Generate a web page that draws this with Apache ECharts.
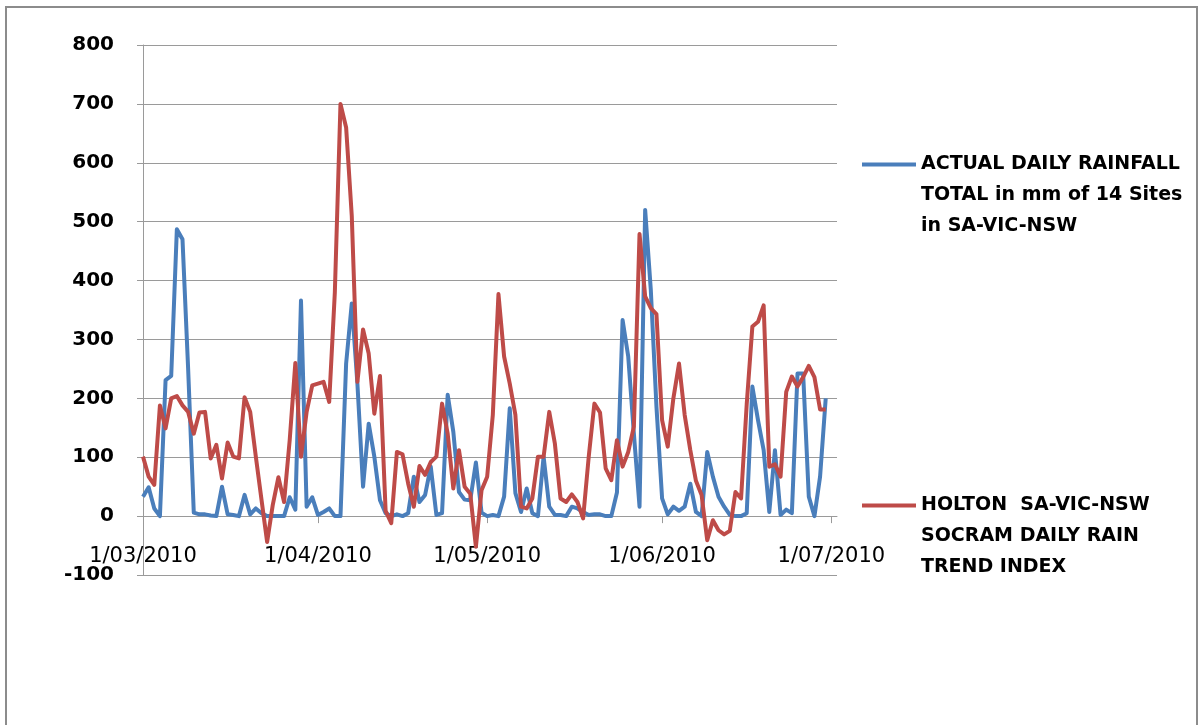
<!DOCTYPE html>
<html>
<head>
<meta charset="utf-8">
<script src="https://cdn.jsdelivr.net/npm/echarts@6/dist/echarts.min.js"></script>
<style>
html, body { margin: 0; padding: 0; background: #ffffff; }
#chart { width: 1203px; height: 725px; }
</style>
</head>
<body>
<div id="chart"></div>
<script>
// ---- data (daily, 1/03/2010 .. 30/06/2010) ----
const actualRainfall = [
  33, 49, 13, 0, 231, 238, 487, 470, 250, 6,
  3, 3, 1, 0, 50, 3, 2, 0, 36, 3,
  13, 5, 0, 0, 0, 0, 32, 11, 366, 16,
  32, 2, 7, 13, 0, 0, 259, 361, 225, 50,
  157, 101, 27, 5, 0, 3, 0, 5, 67, 24,
  36, 84, 2, 5, 206, 143, 41, 28, 27, 91,
  6, 0, 2, 0, 33, 183, 39, 7, 47, 5,
  0, 101, 16, 2, 2, 0, 16, 13, 7, 2,
  3, 3, 0, 0, 40, 333, 271, 140, 16, 520,
  384, 186, 30, 3, 16, 9, 16, 55, 7, 0,
  109, 67, 33, 16, 2, 0, 0, 5, 220, 163,
  112, 7, 112, 2, 11, 5, 242, 242, 33, 0,
  67, 200
];
const socramIndex = [
  101, 67, 53, 188, 149, 200, 204, 188, 177, 140,
  176, 177, 98, 121, 64, 125, 101, 98, 202, 177,
  101, 28, -44, 19, 66, 24, 129, 260, 101, 177,
  222, 225, 228, 194, 380, 700, 660, 510, 228, 317,
  276, 174, 238, 9, -12, 109, 105, 55, 16, 85,
  70, 92, 101, 191, 140, 47, 112, 50, 38, -52,
  44, 67, 172, 377, 271, 225, 172, 16, 13, 30,
  101, 101, 177, 123, 30, 24, 37, 24, -4, 101,
  191, 176, 81, 61, 129, 84, 109, 152, 479, 373,
  353, 343, 163, 118, 200, 259, 172, 112, 60, 36,
  -41, -7, -24, -31, -25, 41, 30, 190, 322, 330,
  358, 84, 88, 67, 211, 237, 220, 236, 255, 236,
  181, 181
];
const tickLabels = ['1/03/2010', '1/04/2010', '1/05/2010', '1/06/2010', '1/07/2010'];
const seriesNames = [
  'ACTUAL DAILY RAINFALL TOTAL in mm of 14 Sites in SA-VIC-NSW',
  'HOLTON  SA-VIC-NSW SOCRAM DAILY RAIN TREND INDEX'
];
const legendLines = {
  'ACTUAL DAILY RAINFALL TOTAL in mm of 14 Sites in SA-VIC-NSW': ['ACTUAL DAILY RAINFALL', 'TOTAL in mm of 14 Sites', 'in SA-VIC-NSW'],
  'HOLTON  SA-VIC-NSW SOCRAM DAILY RAIN TREND INDEX': ['HOLTON  SA-VIC-NSW', 'SOCRAM DAILY RAIN', 'TREND INDEX']
};
const yMin = -100, yMax = 800, yStep = 100;

// category list: one entry per day from 1/03/2010, running a little past 1/07/2010
const dayCategories = [];
for (let i = 0; i < 124; i++) {
  const d = new Date(2010, 2, 1 + i);
  dayCategories.push(d.getDate() + '/' + String(d.getMonth() + 1).padStart(2, '0') + '/' + d.getFullYear());
}

const gray = '#9a9a9a';
const chart = echarts.init(document.getElementById('chart'), null, { renderer: 'canvas' });

const legendBase = {
  orient: 'vertical',
  left: 862,
  padding: 0,
  icon: 'rect',
  itemWidth: 54,
  itemHeight: 4,
  selectedMode: false,
  textStyle: {
    fontFamily: 'DejaVu Sans',
    fontWeight: 'bold',
    fontSize: 19,
    lineHeight: 31,
    color: '#000000'
  },
  formatter: function (name) { return '\n\n' + legendLines[name].join('\n'); }
};

chart.setOption({
  animation: false,
  backgroundColor: '#ffffff',
  graphic: [{
    type: 'rect',
    shape: { x: 6, y: 7, width: 1191, height: 740 },
    style: { fill: 'none', stroke: '#8c8c8c', lineWidth: 2 },
    silent: true
  }],
  grid: { left: 143, top: 45, right: 366, bottom: 150, containLabel: false },
  legend: [
    Object.assign({}, legendBase, { top: 87, data: [seriesNames[0]] }),
    Object.assign({}, legendBase, { top: 428, data: [seriesNames[1]] })
  ],
  xAxis: {
    type: 'category',
    data: dayCategories,
    boundaryGap: false,
    axisLine: { onZero: true, lineStyle: { color: gray, width: 1 } },
    axisTick: {
      show: true,
      length: 7,
      interval: function (idx, val) { return tickLabels.indexOf(val) >= 0; },
      lineStyle: { color: gray }
    },
    axisLabel: {
      interval: function (idx, val) { return tickLabels.indexOf(val) >= 0; },
      margin: -29,
      fontFamily: 'DejaVu Sans',
      fontSize: 21,
      color: '#000000',
      hideOverlap: false
    },
    splitLine: { show: false }
  },
  yAxis: {
    type: 'value',
    min: yMin,
    max: yMax,
    interval: yStep,
    axisLine: { show: true, lineStyle: { color: gray, width: 1 } },
    axisTick: { show: true, length: 6, lineStyle: { color: gray } },
    axisLabel: {
      margin: 29,
      fontFamily: 'DejaVu Sans',
      fontWeight: 'bold',
      fontSize: 20,
      color: '#000000'
    },
    splitLine: { show: true, lineStyle: { color: gray, width: 1 } }
  },
  series: [
    {
      name: seriesNames[0],
      type: 'line',
      data: actualRainfall,
      symbol: 'none',
      color: '#4A7EBB',
      lineStyle: { width: 4, color: '#4A7EBB', join: 'round' }
    },
    {
      name: seriesNames[1],
      type: 'line',
      data: socramIndex,
      symbol: 'none',
      color: '#BE4B48',
      lineStyle: { width: 4, color: '#BE4B48', join: 'round' }
    }
  ]
});
</script>
</body>
</html>
